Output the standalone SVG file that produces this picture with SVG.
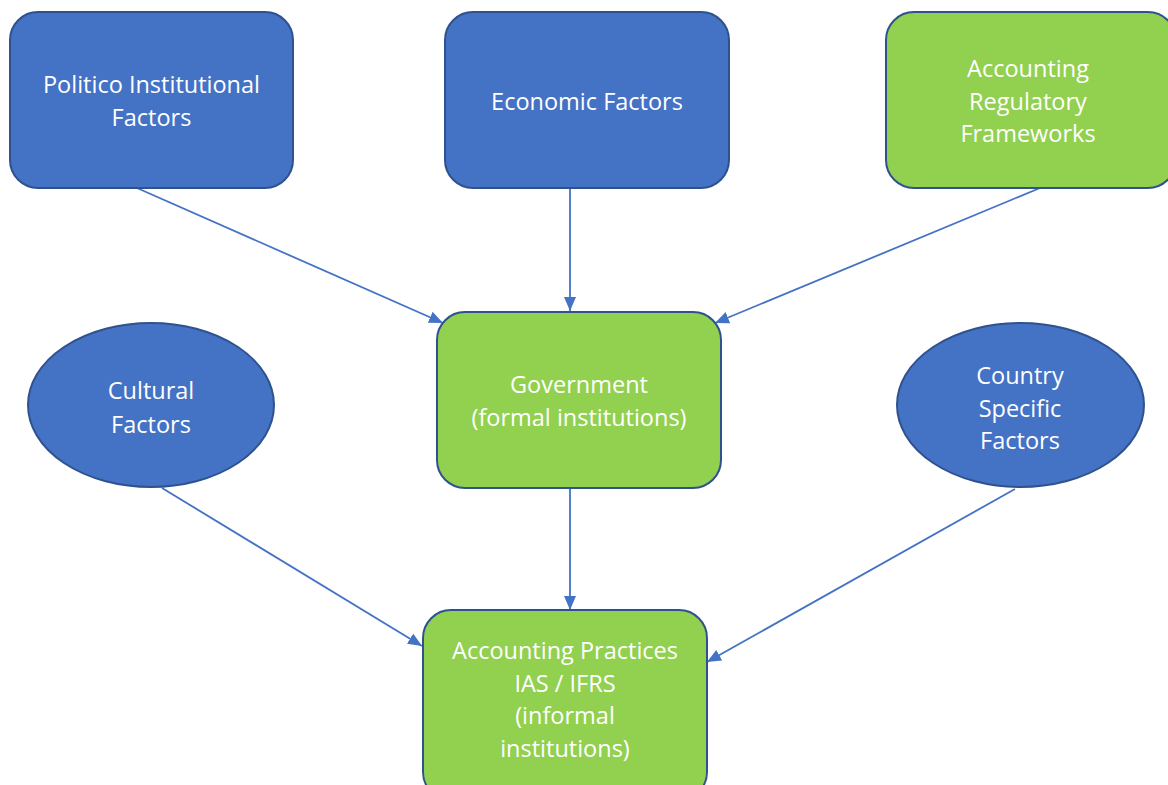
<svg xmlns="http://www.w3.org/2000/svg" width="1168" height="785" viewBox="0 0 1168 785">
<style>
.blue{fill:#4472C4;stroke:#2F528F;stroke-width:2}
.green{fill:#92D050;stroke:#2F528F;stroke-width:2}
.t{fill:#fff;font-family:"Open Sans","Liberation Sans",sans-serif;font-size:23.5px;text-anchor:middle}
.c{fill:none;stroke:#4472C4;stroke-width:1.8}
</style>
<defs>
<marker id="ah" markerUnits="userSpaceOnUse" markerWidth="15" markerHeight="15" viewBox="0 0 15 15" refX="14" refY="7.5" orient="auto">
<path d="M0,1.5 L14,7.5 L0,13.5 Z" fill="#4472C4"/>
</marker>
</defs>
<rect width="1168" height="785" fill="#fff"/>
<g id="connectors">
<line class="c" x1="137" y1="188" x2="443" y2="323" marker-end="url(#ah)"/>
<line class="c" x1="570" y1="188" x2="570" y2="311" marker-end="url(#ah)"/>
<line class="c" x1="1040" y1="188" x2="715" y2="323" marker-end="url(#ah)"/>
<line class="c" x1="570" y1="488" x2="570" y2="610" marker-end="url(#ah)"/>
<line class="c" x1="162" y1="488" x2="422" y2="646" marker-end="url(#ah)"/>
<line class="c" x1="1015" y1="489" x2="707" y2="662" marker-end="url(#ah)"/>
</g>
<g id="politico">
<rect class="blue" x="10" y="12" width="283" height="176" rx="28"/>
<text class="t" x="151.5" y="93">Politico Institutional</text>
<text class="t" x="151.5" y="126">Factors</text>
</g>
<g id="economic">
<rect class="blue" x="445" y="12" width="284" height="176" rx="28"/>
<text class="t" x="587" y="110">Economic Factors</text>
</g>
<g id="regulatory">
<rect class="green" x="886" y="12" width="290" height="176" rx="28"/>
<text class="t" x="1028" y="77">Accounting</text>
<text class="t" x="1028" y="110">Regulatory</text>
<text class="t" x="1028" y="142">Frameworks</text>
</g>
<g id="government">
<rect class="green" x="437" y="312" width="284" height="176" rx="28"/>
<text class="t" x="579" y="393">Government</text>
<text class="t" x="579" y="426">(formal institutions)</text>
</g>
<g id="cultural">
<ellipse class="blue" cx="151" cy="405" rx="123" ry="82"/>
<text class="t" x="151" y="399">Cultural</text>
<text class="t" x="151" y="433">Factors</text>
</g>
<g id="country">
<ellipse class="blue" cx="1020.5" cy="405" rx="123.5" ry="82"/>
<text class="t" x="1020" y="384">Country</text>
<text class="t" x="1020" y="417">Specific</text>
<text class="t" x="1020" y="449">Factors</text>
</g>
<g id="practices">
<rect class="green" x="423" y="610" width="284" height="190" rx="28"/>
<text class="t" x="565" y="659">Accounting Practices</text>
<text class="t" x="565" y="692">IAS / IFRS</text>
<text class="t" x="565" y="724">(informal</text>
<text class="t" x="565" y="757">institutions)</text>
</g>
</svg>
